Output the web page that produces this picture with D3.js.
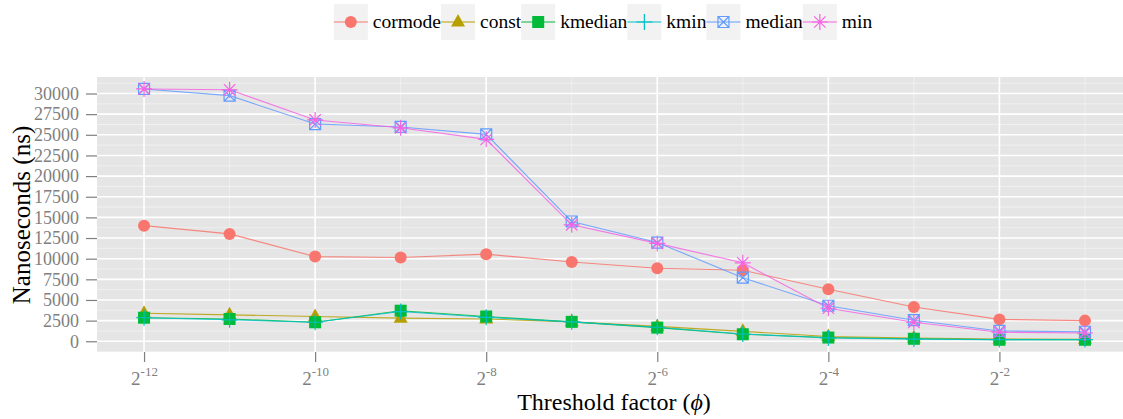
<!DOCTYPE html>
<html>
<head>
<meta charset="utf-8">
<script src="https://cdn.jsdelivr.net/npm/d3@7"></script>
<style>
  html, body { margin: 0; padding: 0; background: #fff; }
  svg { display: block; }
  svg text { font-family: 'Liberation Serif', 'Times New Roman', serif; }
</style>
</head>
<body>
<svg id="chart" width="1123" height="419"></svg>
<script>
// Threshold factor exponents (phi = 2^k)
const exponents = [-12, -11, -10, -9, -8, -7, -6, -5, -4, -3, -2, -1];

const seriesNames = ["cormode", "const", "kmedian", "kmin", "median", "min"];

// Running time in nanoseconds for each estimator
const cormode = [14000, 13000, 10250, 10150, 10550, 9600, 8850, 8600, 6300, 4150, 2650, 2500];
const constV  = [3400, 3200, 3000, 2800, 2700, 2350, 1800, 1200, 580, 390, 270, 250];
const kmedian = [2850, 2700, 2300, 3700, 3000, 2350, 1650, 850, 450, 300, 180, 180];
const kmin    = [2850, 2600, 2300, 3600, 2900, 2350, 1700, 880, 400, 260, 200, 200];
const median  = [30550, 29750, 26300, 25950, 25050, 14500, 11950, 7700, 4300, 2550, 1250, 1150];
const minV    = [30550, 30450, 26800, 25850, 24450, 14100, 11850, 9500, 4000, 2300, 1100, 1000];

const yTicks = [0, 2500, 5000, 7500, 10000, 12500, 15000, 17500, 20000, 22500, 25000, 27500, 30000];
const xTicks = [-12, -10, -8, -6, -4, -2];

const colors = ["#F8766D", "#B79F00", "#00BA38", "#00BFC4", "#619CFF", "#F564E3"];
const shapes = ["circle", "triangle", "square", "plus", "squarecross", "asterisk"];
const values = [cormode, constV, kmedian, kmin, median, minV];

const series = seriesNames.map((name, i) => ({
  name, color: colors[i], shape: shapes[i],
  points: exponents.map((e, j) => ({ e, v: values[i][j] }))
}));

const svg = d3.select("#chart");
const font = "'Liberation Serif', 'Times New Roman', serif";

const panel = { left: 97, right: 1132, top: 77, bottom: 352 };

const x = d3.scaleLinear().domain([-12.55, -0.45]).range([panel.left, panel.right]);
const y = d3.scaleLinear().domain([-1300, 32000]).range([panel.bottom, panel.top]);

// Panel background
svg.append("rect")
  .attr("x", panel.left).attr("y", panel.top)
  .attr("width", panel.right - panel.left).attr("height", panel.bottom - panel.top)
  .attr("fill", "#E5E5E5");

const grid = svg.append("g");
// Minor grid lines
const yMinor = yTicks.slice(0, -1).map(t => t + 1250).concat([-1250, 31250]);
grid.selectAll(".ymin").data(yMinor).join("line")
  .attr("x1", panel.left).attr("x2", panel.right)
  .attr("y1", d => y(d)).attr("y2", d => y(d))
  .attr("stroke", "#F2F2F2").attr("stroke-width", 0.8);
const xMinor = [-11, -9, -7, -5, -3, -1];
grid.selectAll(".xmin").data(xMinor).join("line")
  .attr("y1", panel.top).attr("y2", panel.bottom)
  .attr("x1", d => x(d)).attr("x2", d => x(d))
  .attr("stroke", "#F2F2F2").attr("stroke-width", 0.8);
// Major grid lines
grid.selectAll(".ymaj").data(yTicks).join("line")
  .attr("x1", panel.left).attr("x2", panel.right)
  .attr("y1", d => y(d)).attr("y2", d => y(d))
  .attr("stroke", "#FFFFFF").attr("stroke-width", 1.6);
grid.selectAll(".xmaj").data(xTicks).join("line")
  .attr("y1", panel.top).attr("y2", panel.bottom)
  .attr("x1", d => x(d)).attr("x2", d => x(d))
  .attr("stroke", "#FFFFFF").attr("stroke-width", 1.6);

// Y axis
const yAxis = svg.append("g")
  .attr("transform", `translate(${panel.left},0)`)
  .call(d3.axisLeft(y).tickValues(yTicks).tickSize(11).tickPadding(7).tickFormat(d3.format("d")));
yAxis.select(".domain").remove();
yAxis.attr("font-family", font);
yAxis.selectAll(".tick line").attr("stroke", "#7F7F7F").attr("stroke-width", 1.2);
yAxis.selectAll(".tick text")
  .attr("fill", "#7F7F7F").style("font-family", font).style("font-size", "18px");

// X axis with power-of-two labels
const xAxis = svg.append("g")
  .attr("transform", `translate(0,${panel.bottom})`)
  .call(d3.axisBottom(x).tickValues(xTicks).tickSize(10).tickFormat(""));
xAxis.select(".domain").remove();
xAxis.attr("font-family", font);
xAxis.selectAll(".tick line").attr("stroke", "#7F7F7F").attr("stroke-width", 1.2);
xAxis.selectAll(".tick").each(function (d) {
  const t = d3.select(this).append("text")
    .attr("y", 33).attr("text-anchor", "middle")
    .attr("fill", "#7F7F7F").style("font-family", font).style("font-size", "19px");
  t.append("tspan").text("2");
  t.append("tspan").attr("dy", -9).style("font-size", "13px").text(String(d));
});

// Axis titles
svg.append("text")
  .attr("x", 614).attr("y", 410).attr("text-anchor", "middle")
  .style("font-family", font).style("font-size", "24px").attr("fill", "#000")
  .call(t => {
    t.append("tspan").text("Threshold factor (");
    t.append("tspan").style("font-style", "italic").text("\u03D5");
    t.append("tspan").text(")");
  });
svg.append("text")
  .attr("transform", "translate(30,215) rotate(-90)")
  .attr("text-anchor", "middle")
  .style("font-family", font).style("font-size", "25px").attr("fill", "#000")
  .text("Nanoseconds (ns)");

// Marker drawing
function drawShape(g, shape, color) {
  switch (shape) {
    case "circle":
      g.append("circle").attr("r", 6).attr("fill", color);
      break;
    case "triangle":
      g.append("path").attr("d", "M0,-8L7,4.5L-7,4.5Z").attr("fill", color);
      break;
    case "square":
      g.append("rect").attr("x", -6).attr("y", -6).attr("width", 12).attr("height", 12).attr("fill", color);
      break;
    case "plus":
      g.append("path").attr("d", "M-8,0H8M0,-8V8").attr("stroke", color).attr("stroke-width", 1.2).attr("fill", "none");
      break;
    case "squarecross":
      g.append("path").attr("d", "M-5.5,-5.5H5.5V5.5H-5.5ZM-5.5,-5.5L5.5,5.5M5.5,-5.5L-5.5,5.5")
        .attr("stroke", color).attr("stroke-width", 1.2).attr("fill", "none");
      break;
    case "asterisk":
      g.append("path").attr("d", "M-8,0H8M0,-8V8M-5.7,-5.7L5.7,5.7M5.7,-5.7L-5.7,5.7")
        .attr("stroke", color).attr("stroke-width", 1.2).attr("fill", "none");
      break;
  }
}

const plot = svg.append("g");
const line = d3.line().x(d => x(d.e)).y(d => y(d.v));

// Lines first, then markers on top
plot.selectAll(".series-line").data(series).join("path")
  .attr("d", d => line(d.points))
  .attr("fill", "none").attr("stroke", d => d.color).attr("stroke-width", 1.1)
  .attr("stroke-opacity", 0.85);

series.forEach(s => {
  plot.append("g").selectAll("g").data(s.points).join("g")
    .attr("transform", d => `translate(${x(d.e)},${y(d.v)})`)
    .each(function () { drawShape(d3.select(this), s.shape, s.color); });
});

// Legend across the top
const legend = svg.append("g").attr("font-family", font);
const keyW = 34, keyH = 36, gap = 5;
let cursor = 0;
series.forEach(s => {
  const g = legend.append("g");
  g.append("rect").attr("width", keyW).attr("height", keyH).attr("fill", "#F2F2F2");
  g.append("line").attr("x1", 0).attr("x2", keyW).attr("y1", keyH / 2).attr("y2", keyH / 2)
    .attr("stroke", s.color).attr("stroke-width", 1.1);
  const m = g.append("g").attr("transform", `translate(${keyW / 2},${keyH / 2})`);
  drawShape(m, s.shape, s.color);
  const txt = g.append("text").attr("x", keyW + gap).attr("y", keyH / 2 + 6)
    .attr("font-family", font).style("font-family", font)
    .style("font-size", "19.5px").attr("fill", "#000").text(s.name);
  const w = txt.node().getComputedTextLength();
  g.attr("transform", `translate(${cursor},0)`);
  cursor += keyW + gap + w;
});
const legendWidth = cursor;
legend.attr("transform", `translate(${603 - legendWidth / 2},4)`);
</script>
</body>
</html>
